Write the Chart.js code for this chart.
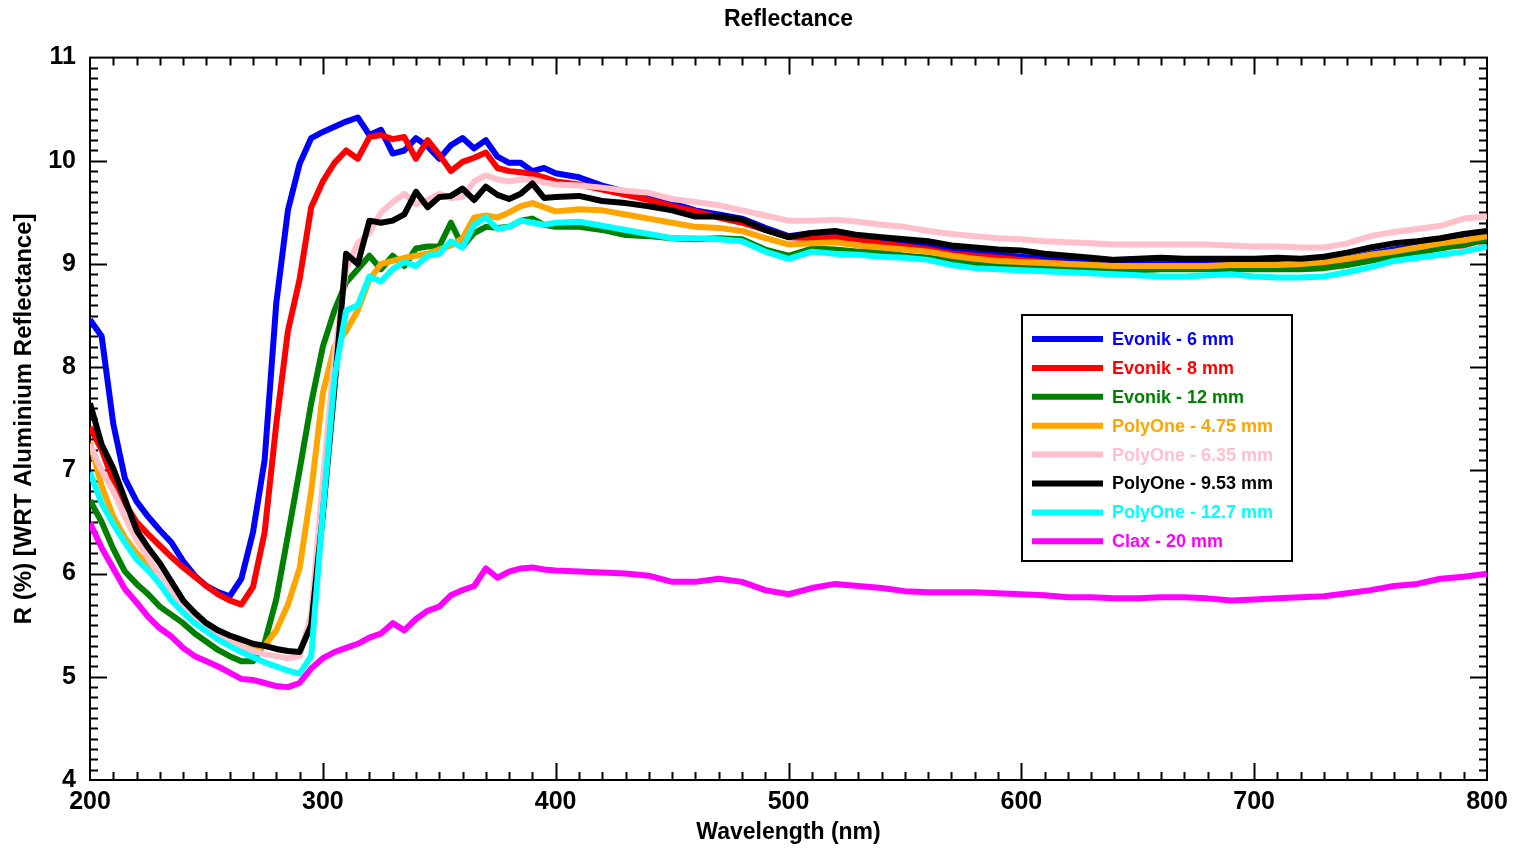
<!DOCTYPE html>
<html>
<head>
<meta charset="utf-8">
<title>Reflectance</title>
<script src="https://cdn.jsdelivr.net/npm/chart.js@4/dist/chart.umd.min.js"></script>
<style>
  html, body { margin: 0; padding: 0; background: #ffffff; }
  #wrap { width: 1518px; height: 848px; }
</style>
</head>
<body>
<div id="wrap"><canvas id="chart" width="1518" height="848"></canvas></div>
<script>
// Wavelength grid (nm): 5 nm steps up to 400 nm, 10 nm steps after that
const wavelengths = [
  200, 205, 210, 215, 220, 225, 230, 235, 240, 245,
  250, 255, 260, 265, 270, 275, 280, 285, 290, 295,
  300, 305, 310, 315, 320, 325, 330, 335, 340, 345,
  350, 355, 360, 365, 370, 375, 380, 385, 390, 395,
  400, 410, 420, 430, 440, 450, 460, 470, 480, 490,
  500, 510, 520, 530, 540, 550, 560, 570, 580, 590,
  600, 610, 620, 630, 640, 650, 660, 670, 680, 690,
  700, 710, 720, 730, 740, 750, 760, 770, 780, 790,
  800
];

// Reflectance in % relative to aluminium, one array per sample
const evonik6 = [
  8.46, 8.30, 7.45, 6.92, 6.70, 6.55, 6.42, 6.30, 6.12, 5.98,
  5.88, 5.82, 5.78, 5.95, 6.40, 7.10, 8.62, 9.52, 9.97, 10.22,
  10.28, 10.33, 10.38, 10.42, 10.25, 10.30, 10.07, 10.10, 10.22, 10.14,
  10.02, 10.15, 10.22, 10.12, 10.20, 10.04, 9.98, 9.98, 9.90, 9.93,
  9.88, 9.84, 9.76, 9.70, 9.65, 9.59, 9.52, 9.48, 9.44, 9.35,
  9.27, 9.30, 9.28, 9.26, 9.24, 9.20, 9.17, 9.13, 9.11, 9.09,
  9.07, 9.05, 9.03, 9.02, 9.00, 9.01, 9.02, 9.00, 9.00, 9.00,
  9.00, 9.00, 8.99, 9.01, 9.05, 9.10, 9.14, 9.17, 9.20, 9.24,
  9.28
];
const evonik8 = [
  7.42, 7.20, 6.90, 6.68, 6.50, 6.38, 6.27, 6.16, 6.06, 5.97,
  5.88, 5.80, 5.74, 5.70, 5.87, 6.40, 7.45, 8.35, 8.85, 9.55,
  9.80, 9.98, 10.10, 10.02, 10.23, 10.25, 10.21, 10.23, 10.02, 10.20,
  10.06, 9.90, 9.99, 10.03, 10.08, 9.93, 9.90, 9.89, 9.87, 9.84,
  9.80, 9.77, 9.72, 9.67, 9.62, 9.56, 9.51, 9.45, 9.40, 9.33,
  9.26, 9.25, 9.26, 9.24, 9.20, 9.17, 9.14, 9.10, 9.08, 9.06,
  9.04, 9.02, 9.00, 8.99, 8.97, 8.98, 8.98, 8.97, 8.98, 8.97,
  8.96, 8.96, 8.97, 8.98, 9.02, 9.06, 9.10, 9.14, 9.17, 9.18,
  9.24
];
const evonik12 = [
  6.71, 6.50, 6.24, 6.02, 5.90, 5.80, 5.68, 5.60, 5.52, 5.42,
  5.34, 5.26, 5.20, 5.15, 5.15, 5.33, 5.75, 6.37, 7.00, 7.65,
  8.20, 8.55, 8.82, 8.95, 9.08, 8.95, 9.08, 8.98, 9.15, 9.17,
  9.17, 9.40, 9.17, 9.30, 9.36, 9.35, 9.36, 9.42, 9.44, 9.38,
  9.36, 9.36, 9.33, 9.28, 9.27, 9.25, 9.24, 9.25, 9.24, 9.14,
  9.08, 9.15, 9.14, 9.12, 9.11, 9.08, 9.06, 9.03, 9.00, 8.98,
  8.97, 8.96, 8.96, 8.95, 8.94, 8.94, 8.95, 8.95, 8.95, 8.95,
  8.95, 8.95, 8.95, 8.96, 8.99, 9.03, 9.07, 9.11, 9.15, 9.19,
  9.24
];
const polyone475 = [
  7.27, 6.85, 6.55, 6.35, 6.20, 6.08, 5.94, 5.81, 5.70, 5.58,
  5.50, 5.42, 5.35, 5.29, 5.26, 5.30, 5.45, 5.70, 6.05, 6.80,
  7.75, 8.20, 8.35, 8.55, 8.85, 9.00, 9.03, 9.06, 9.08, 9.10,
  9.14, 9.18, 9.25, 9.45, 9.47, 9.45, 9.50, 9.56, 9.59, 9.55,
  9.51, 9.53, 9.52, 9.48, 9.44, 9.40, 9.36, 9.35, 9.32, 9.25,
  9.19, 9.20, 9.21, 9.18, 9.16, 9.14, 9.12, 9.08, 9.05, 9.03,
  9.02, 9.01, 9.00, 8.99, 8.98, 8.98, 8.98, 8.98, 8.98, 8.99,
  8.99, 8.99, 9.00, 9.02, 9.05, 9.09, 9.12, 9.16, 9.20, 9.23,
  9.27
];
const polyone635 = [
  7.25, 7.00, 6.80, 6.55, 6.33, 6.15, 5.98, 5.82, 5.67, 5.55,
  5.46, 5.39, 5.34, 5.29, 5.25, 5.22, 5.20, 5.18, 5.20, 5.60,
  6.90, 8.10, 8.95, 9.20, 9.30, 9.50, 9.60, 9.68, 9.58, 9.62,
  9.68, 9.64, 9.65, 9.80, 9.86, 9.82, 9.80, 9.82, 9.82, 9.79,
  9.77, 9.76, 9.74, 9.71, 9.69, 9.63, 9.60, 9.57, 9.52, 9.47,
  9.42, 9.42, 9.43, 9.41, 9.38, 9.36, 9.32, 9.29, 9.27, 9.25,
  9.24, 9.22, 9.21, 9.20, 9.19, 9.19, 9.19, 9.19, 9.19, 9.18,
  9.17, 9.17, 9.16, 9.16, 9.20, 9.27, 9.31, 9.34, 9.37, 9.44,
  9.46
];
const polyone953 = [
  7.65, 7.25, 7.02, 6.72, 6.42, 6.25, 6.10, 5.92, 5.74, 5.62,
  5.52, 5.45, 5.40, 5.36, 5.32, 5.30, 5.27, 5.25, 5.24, 5.50,
  6.57, 7.80, 9.10, 9.00, 9.42, 9.40, 9.42, 9.48, 9.70, 9.55,
  9.65, 9.66, 9.73, 9.62, 9.75, 9.67, 9.63, 9.68, 9.78, 9.64,
  9.65, 9.66, 9.61, 9.59, 9.56, 9.52, 9.46, 9.46, 9.43, 9.33,
  9.26, 9.30, 9.32, 9.28, 9.26, 9.24, 9.22, 9.18, 9.16, 9.14,
  9.13, 9.10, 9.08, 9.06, 9.04, 9.05, 9.06, 9.05, 9.05, 9.05,
  9.05, 9.06, 9.05, 9.07, 9.11, 9.16, 9.20, 9.22, 9.25, 9.29,
  9.32
];
const polyone127 = [
  6.98, 6.68, 6.48, 6.30, 6.14, 6.03, 5.90, 5.74, 5.62, 5.52,
  5.44, 5.36, 5.30, 5.24, 5.19, 5.14, 5.10, 5.06, 5.03, 5.20,
  6.60, 7.90, 8.55, 8.60, 8.88, 8.83, 8.95, 9.02, 8.98, 9.08,
  9.10, 9.22, 9.16, 9.38, 9.45, 9.34, 9.36, 9.42, 9.40, 9.38,
  9.40, 9.41, 9.37, 9.33, 9.29, 9.25, 9.25, 9.24, 9.22, 9.12,
  9.05, 9.12, 9.10, 9.09, 9.07, 9.06, 9.04, 8.99, 8.96, 8.95,
  8.94, 8.93, 8.92, 8.91, 8.90, 8.89, 8.88, 8.88, 8.89, 8.90,
  8.88, 8.87, 8.87, 8.88, 8.92, 8.97, 9.03, 9.06, 9.09, 9.12,
  9.17
];
const clax20 = [
  6.49, 6.25, 6.05, 5.85, 5.72, 5.58, 5.47, 5.39, 5.28, 5.20,
  5.15, 5.10, 5.04, 4.98, 4.97, 4.94, 4.91, 4.90, 4.94, 5.08,
  5.18, 5.24, 5.28, 5.32, 5.38, 5.42, 5.52, 5.45, 5.56, 5.64,
  5.68, 5.79, 5.84, 5.88, 6.05, 5.96, 6.02, 6.05, 6.06, 6.04,
  6.03, 6.02, 6.01, 6.00, 5.98, 5.92, 5.92, 5.95, 5.92, 5.84,
  5.80, 5.86, 5.90, 5.88, 5.86, 5.83, 5.82, 5.82, 5.82, 5.81,
  5.80, 5.79, 5.77, 5.77, 5.76, 5.76, 5.77, 5.77, 5.76, 5.74,
  5.75, 5.76, 5.77, 5.78, 5.81, 5.84, 5.88, 5.90, 5.95, 5.97,
  6.00
];

const seriesLabels = [
  'Evonik - 6 mm', 'Evonik - 8 mm', 'Evonik - 12 mm',
  'PolyOne - 4.75 mm', 'PolyOne - 6.35 mm', 'PolyOne - 9.53 mm', 'PolyOne - 12.7 mm',
  'Clax - 20 mm'
];
const seriesValues = [evonik6, evonik8, evonik12, polyone475, polyone635, polyone953, polyone127, clax20];
const seriesColors = ['#0000ff', '#ff0000', '#008000', '#ffa500', '#ffc0cb', '#000000', '#00ffff', '#ff00ff'];

// X axis: major labels every 100 nm, minor ticks every 10 nm
const xMin = 200, xMax = 800, xMajor = 100, xMinor = 10;
// Y axis: major labels every 1 %, minor ticks every 0.1 %
const yMin = 4, yMax = 11, yMajor = 1, yMinorDiv = 10;

const FONT = '"Liberation Sans", Arial, Helvetica, sans-serif';
const LINE_W = 6;

const datasets = seriesValues.map((vals, i) => ({
  label: seriesLabels[i],
  data: wavelengths.map((w, j) => ({ x: w, y: vals[j] })),
  borderColor: seriesColors[i],
  backgroundColor: seriesColors[i],
  borderWidth: LINE_W,
  pointRadius: 0,
  tension: 0,
  fill: false,
  borderJoinStyle: 'round',
  // later series sit on top of earlier ones
  order: seriesValues.length - i
}));

// Frame with inward-pointing tick marks on all four sides
const framePlugin = {
  id: 'frameTicks',
  beforeDatasetsDraw(chart) {
    const { ctx, chartArea: a, scales: { x, y } } = chart;
    ctx.save();
    ctx.strokeStyle = '#000';
    ctx.lineWidth = 2;
    ctx.lineCap = 'butt';
    ctx.strokeRect(a.left, a.top, a.right - a.left, a.bottom - a.top);
    const majorLen = 17, minorLen = 8;
    ctx.beginPath();
    const nx = (xMax - xMin) / xMinor;
    for (let k = 1; k < nx; k++) {
      const v = xMin + k * xMinor;
      const px = Math.round(x.getPixelForValue(v)) + 0.5;
      const len = (v % xMajor === 0) ? majorLen : minorLen;
      ctx.moveTo(px, a.bottom); ctx.lineTo(px, a.bottom - len);
      ctx.moveTo(px, a.top); ctx.lineTo(px, a.top + len);
    }
    const ny = (yMax - yMin) * yMinorDiv;
    for (let k = 1; k < ny; k++) {
      const v = yMin + k / yMinorDiv;
      const py = Math.round(y.getPixelForValue(v)) + 0.5;
      const len = (k % yMinorDiv === 0) ? majorLen : minorLen;
      ctx.moveTo(a.left, py); ctx.lineTo(a.left + len, py);
      ctx.moveTo(a.right, py); ctx.lineTo(a.right - len, py);
    }
    ctx.stroke();
    ctx.restore();
  }
};

// Boxed legend with line samples and coloured labels
const legendPlugin = {
  id: 'boxLegend',
  afterDatasetsDraw(chart) {
    const { ctx } = chart;
    const box = { left: 1022, top: 315, right: 1292, bottom: 561 };
    ctx.save();
    ctx.fillStyle = '#fff';
    ctx.fillRect(box.left, box.top, box.right - box.left, box.bottom - box.top);
    ctx.strokeStyle = '#000';
    ctx.lineWidth = 2;
    ctx.strokeRect(box.left, box.top, box.right - box.left, box.bottom - box.top);
    ctx.font = 'bold 18px ' + FONT;
    ctx.textBaseline = 'middle';
    ctx.textAlign = 'left';
    chart.data.datasets.forEach((ds, i) => {
      const cy = 339 + i * 28.9;
      ctx.strokeStyle = ds.borderColor;
      ctx.lineWidth = LINE_W;
      ctx.beginPath();
      ctx.moveTo(1032, cy);
      ctx.lineTo(1103, cy);
      ctx.stroke();
      ctx.fillStyle = ds.borderColor;
      ctx.fillText(ds.label, 1112, cy + 1);
    });
    ctx.restore();
  }
};

new Chart(document.getElementById('chart'), {
  type: 'line',
  data: { datasets },
  plugins: [framePlugin, legendPlugin],
  options: {
    responsive: false,
    animation: false,
    devicePixelRatio: 1,
    layout: { padding: { left: 0, right: 31, top: 0, bottom: 0 } },
    plugins: {
      legend: { display: false },
      tooltip: { enabled: false },
      title: {
        display: true,
        fullSize: false,
        text: 'Reflectance',
        color: '#000',
        font: { family: FONT, size: 23, weight: 'bold', lineHeight: 1.2 },
        padding: { top: 6, bottom: 24 }
      }
    },
    scales: {
      x: {
        type: 'linear',
        min: xMin,
        max: xMax,
        grid: { display: false, drawTicks: false },
        border: { display: false },
        ticks: {
          stepSize: xMajor,
          padding: 7,
          color: '#000',
          maxRotation: 0,
          font: { family: FONT, size: 25, weight: 'bold' }
        },
        title: {
          display: true,
          text: 'Wavelength (nm)',
          color: '#000',
          font: { family: FONT, size: 23, weight: 'bold', lineHeight: 1.2 },
          padding: { top: 0, bottom: 2 }
        },
        afterFit(scale) { scale.height = 68; }
      },
      y: {
        type: 'linear',
        min: yMin,
        max: yMax,
        grid: { display: false, drawTicks: false },
        border: { display: false },
        ticks: {
          stepSize: yMajor,
          padding: 14,
          color: '#000',
          font: { family: FONT, size: 25, weight: 'bold' }
        },
        title: {
          display: true,
          text: 'R (%) [WRT Aluminium Reflectance]',
          color: '#000',
          font: { family: FONT, size: 24, weight: 'bold', lineHeight: 1.2 },
          padding: { top: 10, bottom: 0 }
        },
        afterFit(scale) { scale.width = 90; }
      }
    }
  }
});
</script>
</body>
</html>
